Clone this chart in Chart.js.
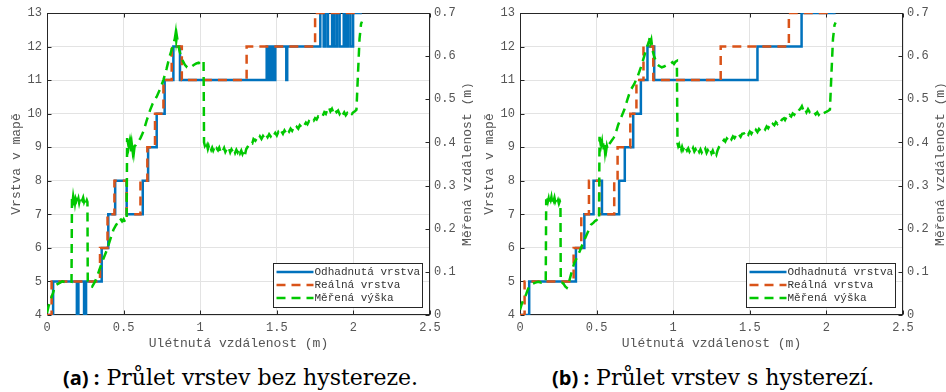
<!DOCTYPE html>
<html><head><meta charset="utf-8">
<script src="https://cdn.jsdelivr.net/npm/chart.js@4"></script>
<style>
html,body{margin:0;padding:0;background:#fff;}
#wrap{position:relative;width:946px;height:392px;overflow:hidden;background:#fff;}
canvas{position:absolute;top:0;}
.cap{position:absolute;top:366px;line-height:23px;white-space:nowrap;font-family:'DejaVu Serif','Liberation Serif',serif;font-size:22px;color:#000;}
.cap b{font-family:'Open Sans','DejaVu Sans',sans-serif;font-weight:700;font-size:20px;}
</style></head>
<body><div id="wrap">
<canvas id="ca" width="473" height="355" style="left:0"></canvas>
<canvas id="cb" width="473" height="355" style="left:473px"></canvas>
<div class="cap" style="left:63px"><b>(a) :</b> Průlet vrstev bez hystereze.</div>
<div class="cap" style="left:552px"><b>(b) :</b> Průlet vrstev s hysterezí.</div>
</div>
<script>
// ---------- labels ----------
const seriesNames = ['Odhadnutá vrstva', 'Reálná vrstva', 'Měřená výška'];
const xTitle = 'Ulétnutá vzdálenost (m)';
const yLeftTitle = 'Vrstva v mapě';
const yRightTitle = 'Měřená vzdálenost (m)';
const xTickLabels = ['0', '0.5', '1', '1.5', '2', '2.5'];
const yLeftTickLabels = ['4', '5', '6', '7', '8', '9', '10', '11', '12', '13'];
const yRightTickLabels = ['0', '0.1', '0.2', '0.3', '0.4', '0.5', '0.6', '0.7'];

// ---------- (a) without hysteresis ----------
// layer change points: x where the layer changes, new layer value
const estA_x = [0, 0.04, 0.195, 0.205, 0.242, 0.255, 0.357, 0.40, 0.445, 0.52, 0.625, 0.66, 0.716, 0.768, 0.825, 0.868,
  1.434, 1.445, 1.452, 1.462, 1.47, 1.48, 1.49, 1.562, 1.568,
  1.784, 1.806, 1.817, 1.834, 1.861, 1.876, 1.893, 1.91, 1.937, 1.948, 1.963, 1.98, 1.998, 2.055];
const estA_y = [4, 5, 4, 5, 4, 5, 6, 7, 8, 7, 8, 9, 10, 11, 12, 11,
  12, 11, 12, 11, 12, 11, 12, 11, 12,
  13, 12, 13, 12, 13, 12, 13, 12, 13, 12, 13, 12, 13, 13];
const realA_x = [0, 0.03, 0.346, 0.395, 0.44, 0.52, 0.61, 0.655, 0.705, 0.76, 0.814, 0.88, 1.303, 1.75, 2.05];
const realA_y = [4, 5, 6, 7, 8, 7, 8, 9, 10, 11, 12, 11, 12, 13, 13];
const measA_x = [
  0, 0.01, 0.02, 0.03, 0.04, 0.05, 0.06, 0.08, 0.10, 0.12,
  0.14, 0.16, 0.163, 0.167, 0.171, 0.175, 0.179, 0.183, 0.187, 0.191,
  0.195, 0.2, 0.205, 0.21, 0.215, 0.22, 0.225, 0.23, 0.236, 0.242,
  0.248, 0.254, 0.26, 0.264, 0.266, 0.275, 0.285, 0.295, 0.305, 0.314,
  0.33, 0.345, 0.357, 0.372, 0.39, 0.41, 0.433, 0.45, 0.465, 0.477,
  0.49, 0.5, 0.51, 0.52, 0.523, 0.527, 0.531, 0.535, 0.539, 0.543,
  0.547, 0.551, 0.555, 0.559, 0.563, 0.567, 0.572, 0.58, 0.59, 0.6,
  0.61, 0.62, 0.63, 0.65, 0.673, 0.69, 0.716, 0.74, 0.76, 0.78,
  0.8, 0.82, 0.834, 0.84, 0.844, 0.848, 0.855, 0.865, 0.875, 0.885,
  0.9, 0.915, 0.93, 0.945, 0.96, 0.975, 0.99, 1.0, 1.01, 1.022,
  1.025, 1.03, 1.035, 1.04, 1.045, 1.05, 1.055, 1.06, 1.066, 1.072,
  1.078, 1.085, 1.092, 1.1, 1.108, 1.116, 1.124, 1.132, 1.14, 1.148,
  1.156, 1.164, 1.172, 1.18, 1.188, 1.196, 1.204, 1.212, 1.22, 1.228,
  1.236, 1.244, 1.252, 1.26, 1.268, 1.276, 1.284, 1.292, 1.3, 1.31,
  1.32, 1.33, 1.34, 1.348, 1.36, 1.37, 1.38, 1.39, 1.4, 1.41,
  1.42, 1.43, 1.44, 1.45, 1.46, 1.47, 1.48, 1.49, 1.5, 1.51,
  1.52, 1.53, 1.54, 1.55, 1.56, 1.57, 1.58, 1.59, 1.6, 1.61,
  1.62, 1.63, 1.64, 1.65, 1.66, 1.67, 1.68, 1.69, 1.7, 1.71,
  1.72, 1.73, 1.74, 1.75, 1.76, 1.77, 1.78, 1.79, 1.8, 1.81,
  1.82, 1.83, 1.84, 1.85, 1.86, 1.87, 1.88, 1.89, 1.9, 1.91,
  1.92, 1.93, 1.94, 1.95, 1.96, 1.97, 1.98, 1.99, 2.0, 2.01,
  2.02, 2.03, 2.04, 2.05, 2.056];
const measA_y = [
  0.005, 0.02, 0.03, 0.042, 0.052, 0.064, 0.07, 0.074, 0.078, 0.076,
  0.078, 0.077, 0.27, 0.262, 0.275, 0.266, 0.272, 0.26, 0.27, 0.266,
  0.273, 0.264, 0.27, 0.26, 0.268, 0.263, 0.27, 0.266, 0.272, 0.262,
  0.268, 0.26, 0.266, 0.262, 0.078, 0.074, 0.068, 0.066, 0.072, 0.078,
  0.092, 0.108, 0.12, 0.134, 0.15, 0.172, 0.197, 0.208, 0.216, 0.224,
  0.217, 0.222, 0.215, 0.226, 0.41, 0.402, 0.408, 0.392, 0.4, 0.385,
  0.396, 0.378, 0.392, 0.38, 0.39, 0.377, 0.392, 0.394, 0.4, 0.404,
  0.41, 0.418, 0.426, 0.45, 0.475, 0.49, 0.506, 0.525, 0.545, 0.57,
  0.599, 0.622, 0.64, 0.654, 0.636, 0.646, 0.63, 0.612, 0.598, 0.59,
  0.58, 0.574, 0.572, 0.576, 0.58, 0.583, 0.585, 0.581, 0.586, 0.588,
  0.4, 0.393, 0.397, 0.388, 0.393, 0.385, 0.391, 0.384, 0.389, 0.383,
  0.388, 0.381, 0.387, 0.38, 0.386, 0.382, 0.388, 0.379, 0.385, 0.381,
  0.387, 0.378, 0.384, 0.38, 0.386, 0.377, 0.384, 0.379, 0.385, 0.376,
  0.383, 0.377, 0.385, 0.375, 0.381, 0.373, 0.38, 0.371, 0.384, 0.39,
  0.396, 0.4, 0.398, 0.408, 0.404, 0.41, 0.406, 0.414, 0.408, 0.415,
  0.41, 0.418, 0.412, 0.419, 0.414, 0.421, 0.416, 0.422, 0.416, 0.424,
  0.419, 0.426, 0.42, 0.428, 0.422, 0.43, 0.425, 0.432, 0.427, 0.434,
  0.43, 0.436, 0.432, 0.44, 0.436, 0.443, 0.44, 0.446, 0.442, 0.449,
  0.446, 0.452, 0.45, 0.456, 0.453, 0.46, 0.458, 0.464, 0.462, 0.47,
  0.466, 0.476, 0.482, 0.472, 0.478, 0.469, 0.476, 0.47, 0.474, 0.466,
  0.472, 0.464, 0.47, 0.463, 0.468, 0.464, 0.469, 0.466, 0.47, 0.472,
  0.476, 0.56, 0.64, 0.675, 0.68];

// ---------- (b) with hysteresis ----------
const estB_x = [0, 0.06, 0.365, 0.42, 0.48, 0.535, 0.647, 0.684, 0.739, 0.789, 0.832, 0.876, 1.55, 1.838, 2.06];
const estB_y = [4, 5, 6, 7, 8, 7, 8, 9, 10, 11, 12, 11, 12, 13, 13];
const realB_x = [0, 0.03, 0.35, 0.40, 0.45, 0.517, 0.615, 0.637, 0.72, 0.76, 0.806, 0.87, 1.31, 1.755, 2.05];
const realB_y = [4, 5, 6, 7, 8, 7, 8, 9, 10, 11, 12, 11, 12, 13, 13];
const measB_x = [
  0, 0.01, 0.02, 0.03, 0.04, 0.05, 0.06, 0.08, 0.10, 0.12,
  0.14, 0.16, 0.168, 0.171, 0.175, 0.179, 0.183, 0.187, 0.191, 0.195,
  0.2, 0.205, 0.21, 0.215, 0.22, 0.225, 0.23, 0.236, 0.242, 0.248,
  0.254, 0.26, 0.264, 0.266, 0.275, 0.285, 0.295, 0.305, 0.315, 0.33,
  0.345, 0.354, 0.37, 0.39, 0.41, 0.43, 0.45, 0.463, 0.48, 0.49,
  0.5, 0.51, 0.516, 0.519, 0.523, 0.527, 0.531, 0.535, 0.539, 0.543,
  0.547, 0.551, 0.555, 0.559, 0.563, 0.567, 0.572, 0.58, 0.59, 0.6,
  0.61, 0.62, 0.64, 0.66, 0.68, 0.70, 0.72, 0.745, 0.767, 0.79,
  0.81, 0.83, 0.843, 0.848, 0.852, 0.857, 0.865, 0.875, 0.885, 0.898,
  0.91, 0.925, 0.94, 0.955, 0.97, 0.984, 0.995, 1.005, 1.015, 1.024,
  1.028, 1.033, 1.038, 1.043, 1.048, 1.053, 1.058, 1.064, 1.07, 1.076,
  1.082, 1.09, 1.098, 1.106, 1.114, 1.122, 1.13, 1.138, 1.146, 1.154,
  1.162, 1.17, 1.178, 1.186, 1.194, 1.202, 1.21, 1.218, 1.226, 1.234,
  1.242, 1.25, 1.258, 1.266, 1.274, 1.282, 1.29, 1.3, 1.31, 1.32,
  1.332, 1.34, 1.35, 1.36, 1.37, 1.38, 1.39, 1.4, 1.41, 1.42,
  1.43, 1.44, 1.45, 1.462, 1.47, 1.48, 1.49, 1.5, 1.51, 1.52,
  1.53, 1.54, 1.55, 1.56, 1.57, 1.58, 1.593, 1.6, 1.61, 1.62,
  1.63, 1.64, 1.65, 1.66, 1.67, 1.68, 1.69, 1.7, 1.71, 1.723,
  1.73, 1.74, 1.75, 1.76, 1.77, 1.78, 1.79, 1.8, 1.81, 1.82,
  1.832, 1.84, 1.85, 1.86, 1.87, 1.88, 1.89, 1.9, 1.918, 1.93,
  1.94, 1.95, 1.96, 1.97, 1.984, 1.995, 2.005, 2.015, 2.023, 2.033,
  2.043, 2.053, 2.06];
const measB_y = [
  0.012, 0.024, 0.034, 0.04, 0.048, 0.058, 0.066, 0.072, 0.075, 0.077,
  0.075, 0.076, 0.076, 0.268, 0.26, 0.272, 0.264, 0.27, 0.262, 0.271,
  0.266, 0.274, 0.262, 0.27, 0.265, 0.272, 0.263, 0.269, 0.26, 0.266,
  0.258, 0.264, 0.26, 0.076, 0.075, 0.072, 0.066, 0.063, 0.07, 0.09,
  0.11, 0.12, 0.132, 0.148, 0.166, 0.182, 0.198, 0.209, 0.214, 0.218,
  0.22, 0.217, 0.222, 0.413, 0.404, 0.41, 0.395, 0.402, 0.386, 0.398,
  0.38, 0.394, 0.378, 0.39, 0.382, 0.392, 0.385, 0.395, 0.4, 0.405,
  0.41, 0.416, 0.44, 0.458, 0.475, 0.498, 0.52, 0.535, 0.552, 0.575,
  0.599, 0.622, 0.636, 0.645, 0.632, 0.638, 0.614, 0.6, 0.59, 0.58,
  0.577, 0.574, 0.576, 0.579, 0.582, 0.583, 0.586, 0.582, 0.587, 0.589,
  0.398, 0.391, 0.395, 0.386, 0.392, 0.384, 0.39, 0.383, 0.388, 0.382,
  0.387, 0.381, 0.386, 0.379, 0.385, 0.38, 0.387, 0.379, 0.384, 0.378,
  0.385, 0.378, 0.384, 0.377, 0.383, 0.379, 0.385, 0.376, 0.382, 0.377,
  0.384, 0.375, 0.381, 0.373, 0.379, 0.372, 0.382, 0.39, 0.395, 0.4,
  0.406, 0.402, 0.409, 0.405, 0.412, 0.407, 0.414, 0.41, 0.416, 0.412,
  0.418, 0.413, 0.42, 0.421, 0.417, 0.423, 0.418, 0.425, 0.42, 0.427,
  0.422, 0.429, 0.424, 0.431, 0.427, 0.433, 0.433, 0.43, 0.437, 0.433,
  0.44, 0.436, 0.443, 0.44, 0.447, 0.443, 0.45, 0.447, 0.453, 0.456,
  0.452, 0.459, 0.456, 0.463, 0.46, 0.467, 0.464, 0.47, 0.468, 0.474,
  0.479, 0.484, 0.474, 0.479, 0.47, 0.477, 0.471, 0.475, 0.471, 0.465,
  0.47, 0.464, 0.469, 0.465, 0.468, 0.47, 0.472, 0.474, 0.476, 0.56,
  0.64, 0.672, 0.678];

// ---------- styles ----------
const BLUE = '#0072BD', ORANGE = '#D95319', GREEN = '#00C800';
const GRID = '#e3e3e3', AXIS = '#262626', TXT = '#555555';
const MONO = "'Liberation Mono','DejaVu Sans Mono',monospace";
const DASH = [9, 6];

const pts = (xs, ys) => xs.map((x, i) => ({x: x, y: ys[i]}));

const framePlugin = {
  id: 'frame',
  beforeDatasetsDraw(chart) {
    const {ctx, chartArea: a, scales} = chart;
    const L = Math.round(a.left) + 0.5, R = Math.round(a.right) - 0.5;
    const T = Math.round(a.top) + 0.5, B = Math.round(a.bottom) - 0.5;
    ctx.save();
    ctx.strokeStyle = AXIS; ctx.lineWidth = 1;
    ctx.strokeRect(L, T, R - L, B - T);
    ctx.beginPath();
    scales.x.ticks.forEach(t => {
      const p = Math.round(scales.x.getPixelForValue(t.value)) + 0.5;
      ctx.moveTo(p, B); ctx.lineTo(p, B - 4);
      ctx.moveTo(p, T); ctx.lineTo(p, T + 4);
    });
    scales.y.ticks.forEach(t => {
      const p = Math.round(scales.y.getPixelForValue(t.value)) + 0.5;
      ctx.moveTo(L, p); ctx.lineTo(L + 4, p);
    });
    scales.y2.ticks.forEach(t => {
      const p = Math.round(scales.y2.getPixelForValue(t.value)) + 0.5;
      ctx.moveTo(R, p); ctx.lineTo(R - 4, p);
    });
    ctx.stroke();
    ctx.restore();
  }
};

const legendPlugin = {
  id: 'boxLegend',
  afterDatasetsDraw(chart) {
    const {ctx, chartArea: a} = chart;
    const w = 149, h = 44;
    const x0 = Math.round(a.right - 8 - w) + 0.5, y0 = Math.round(a.bottom - 8 - h) + 0.5;
    ctx.save();
    ctx.fillStyle = '#fff'; ctx.strokeStyle = AXIS; ctx.lineWidth = 1;
    ctx.fillRect(x0, y0, w, h); ctx.strokeRect(x0, y0, w, h);
    ctx.font = '11px ' + MONO; ctx.textBaseline = 'middle'; ctx.textAlign = 'left';
    chart.data.datasets.forEach((ds, i) => {
      const yy = y0 + 8.5 + i * 13;
      ctx.beginPath();
      ctx.setLineDash(ds.borderDash || []);
      ctx.strokeStyle = ds.borderColor; ctx.lineWidth = ds.borderWidth;
      ctx.moveTo(x0 + 3, yy); ctx.lineTo(x0 + 40, yy);
      ctx.stroke();
      ctx.setLineDash([]);
      ctx.fillStyle = '#333';
      ctx.fillText(ds.label, x0 + 41, yy);
    });
    ctx.restore();
  }
};

const rightTitlePlugin = {
  id: 'rightTitle',
  afterDraw(chart) {
    const {ctx, chartArea: a} = chart;
    ctx.save();
    ctx.translate(468, (a.top + a.bottom) / 2);
    ctx.rotate(-Math.PI / 2);
    ctx.font = '13px ' + MONO; ctx.fillStyle = TXT;
    ctx.textAlign = 'center'; ctx.textBaseline = 'middle';
    ctx.fillText(yRightTitle, 0, 0);
    ctx.restore();
  }
};

function buildChart(id, ex, ey, rx, ry, mx, my) {
  const tickFont = {family: MONO, size: 12};
  const titleFont = {family: MONO, size: 13};
  return new Chart(document.getElementById(id), {
    type: 'line',
    data: {datasets: [
      {label: seriesNames[0], data: pts(ex, ey), stepped: 'before', borderColor: BLUE, borderWidth: 2.5,
       pointRadius: 0, yAxisID: 'y', order: 3},
      {label: seriesNames[1], data: pts(rx, ry), stepped: 'before', borderColor: ORANGE, borderWidth: 2.5,
       borderDash: DASH, pointRadius: 0, yAxisID: 'y', order: 2},
      {label: seriesNames[2], data: pts(mx, my), borderColor: GREEN, borderWidth: 2.5,
       borderDash: DASH, pointRadius: 0, tension: 0, yAxisID: 'y2', order: 1}
    ]},
    options: {
      responsive: false, animation: false, devicePixelRatio: 1,
      layout: {padding: {top: 13, left: 0, right: 0, bottom: 0}},
      plugins: {legend: {display: false}, tooltip: {enabled: false}},
      scales: {
        x: {type: 'linear', min: 0, max: 2.5,
            ticks: {stepSize: 0.5, autoSkip: false, maxRotation: 0, padding: 6, font: tickFont, color: TXT,
                    callback: (v, i) => xTickLabels[i]},
            grid: {color: GRID, drawTicks: false}, border: {display: false},
            title: {display: true, text: xTitle, font: titleFont, color: TXT, padding: {top: 0, bottom: 4}},
            afterFit: s => { s.height = 40; }},
        y: {type: 'linear', position: 'left', min: 4, max: 13,
            ticks: {stepSize: 1, padding: 5, font: tickFont, color: TXT, callback: (v, i) => yLeftTickLabels[i]},
            grid: {color: GRID, drawTicks: false}, border: {display: false},
            title: {display: true, text: yLeftTitle, font: titleFont, color: TXT, padding: {top: 8.5, bottom: 0}},
            afterFit: s => { s.width = 47; }},
        y2: {type: 'linear', position: 'right', min: 0, max: 0.7,
            ticks: {stepSize: 0.1, padding: 4, font: tickFont, color: TXT, callback: (v, i) => yRightTickLabels[i]},
            grid: {display: false, drawTicks: false}, border: {display: false},
            afterFit: s => { s.width = 43; }}
      }
    },
    plugins: [framePlugin, legendPlugin, rightTitlePlugin]
  });
}

buildChart('ca', estA_x, estA_y, realA_x, realA_y, measA_x, measA_y);
buildChart('cb', estB_x, estB_y, realB_x, realB_y, measB_x, measB_y);
</script>
</body></html>
